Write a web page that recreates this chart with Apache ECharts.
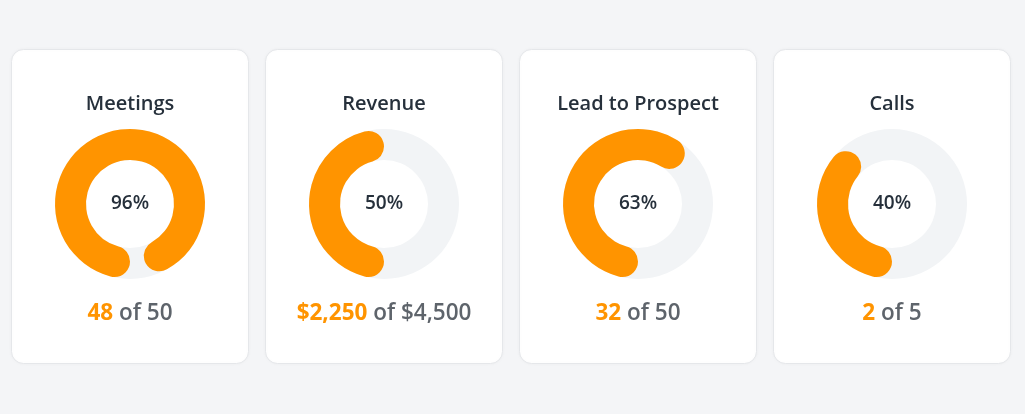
<!DOCTYPE html>
<html>
<head>
<meta charset="utf-8">
<script src="https://cdn.jsdelivr.net/npm/echarts@6/dist/echarts.min.js"></script>
<style>
  html, body { margin: 0; padding: 0; background: #f4f5f7; }
  #main { width: 1025px; height: 414px; }
</style>
</head>
<body>
<div id="main"></div>
<script>
// data
var names = ['Meetings', 'Revenue', 'Lead to Prospect', 'Calls'];
var percents = [96, 50, 63, 40];
var achieved = ['48', '$2,250', '32', '2'];
var targets = ['50', '$4,500', '50', '5'];

var orange = '#ff9400';
var track = '#f2f4f6';
var font = 'Open Sans';
var cardLeft = [11, 265, 519, 773];
var cardW = 237;

var chart = echarts.init(document.getElementById('main'));

function cx(i) { return cardLeft[i] + cardW / 2 + 0.5; }

var graphics = cardLeft.map(function (x) {
  return {
    type: 'rect',
    shape: { x: x + 0.5, y: 49.5, width: cardW, height: 314, r: 12 },
    style: { fill: '#fff', stroke: '#e5e7ea', lineWidth: 1,
      shadowBlur: 4, shadowColor: 'rgba(0,0,0,0.03)' },
    z: -10
  };
});

var titles = [];
names.forEach(function (n, i) {
  titles.push({
    text: n,
    left: cx(i),
    top: 94,
    padding: 0,
    textAlign: 'center',
    textStyle: { fontFamily: font, fontSize: 20, fontWeight: 600, color: '#26303b' }
  });
  titles.push({
    text: '{a|' + achieved[i] + '}{b| of ' + targets[i] + '}',
    left: cx(i),
    top: 302,
    padding: 0,
    textAlign: 'center',
    textStyle: {
      rich: {
        a: { fontFamily: font, fontSize: 22.5, fontWeight: 'bold', color: orange },
        b: { fontFamily: font, fontSize: 22.5, fontWeight: 600, color: '#5e646b' }
      }
    }
  });
});

var series = [];
percents.forEach(function (p, i) {
  // grey track
  series.push({
    type: 'pie',
    silent: true,
    center: [cx(i), 204],
    radius: [44, 75],
    label: { show: false },
    itemStyle: { color: track },
    data: [1]
  });
  // orange progress with round ends kept inside the arc
  series.push({
    type: 'pie',
    silent: true,
    center: [cx(i), 204],
    radius: [44, 75],
    startAngle: -90,
    clockwise: true,
    label: { show: false },
    data: [
      {
        value: p,
        itemStyle: { color: orange, borderRadius: 16 },
        label: {
          show: true,
          position: 'center',
          formatter: '{c}%',
          fontFamily: font,
          fontSize: 19,
          fontWeight: 600,
          color: '#26303b'
        }
      },
      { value: 100 - p, itemStyle: { color: 'transparent' } }
    ]
  });
});

chart.setOption({
  backgroundColor: '#f4f5f7',
  animation: false,
  title: titles,
  graphic: graphics,
  series: series
});
</script>
</body>
</html>
